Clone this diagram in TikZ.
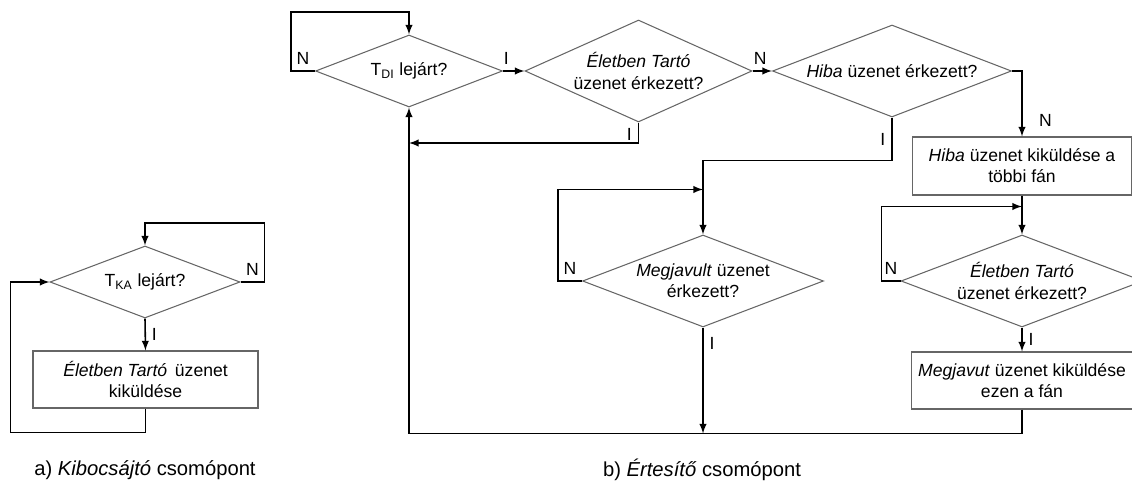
\documentclass[tikz,border=0pt]{standalone}
\usepackage{fontspec}
\setmainfont{Liberation Sans}
\usepackage{tikz}
\usetikzlibrary{calc}
\usetikzlibrary{arrows}
\usetikzlibrary{positioning}
\usetikzlibrary{shapes.geometric}

\begin{document}
\begin{tikzpicture}[
      x=0.02cm, y=-0.02cm,
      decision/.style={diamond, draw=black!60, line width=0.6pt, inner sep=0pt, align=center},
      block/.style ={rectangle, draw=black!60, line width=0.6pt, inner sep=0pt, align=center},
      flow/.style ={line width=0.9pt, -latex},
      caption/.style={font=\fontsize{11.5}{14}\selectfont}
    ]
    \useasboundingbox (0,0) rectangle (1132,486);

    % a) Kibocsajto csomopont
    \node [decision, aspect=2.64, minimum width=3.8cm, minimum height=1.44cm] (tka) at (145,282) {T\textsubscript{KA} lejárt?} ;
    \node [block, minimum width=4.5cm, minimum height=1.14cm] (kaki) at (145.5,379.5) {\textit{Életben Tartó}\, üzenet\\kiküldése} ;
    \node [caption] (capa) at (145,470) {a) \textit{Kibocsájtó} csomópont} ;

    \draw [flow] (tka.east) -- node[above] {N} ++(24,0) -- ++(0,-59) -| (tka.north) ;
    \draw [flow] (tka.south) -- node[right] {I} (kaki.north) ;
    \draw [flow] (kaki.south) -- ++(0,24) -- ++(-135,0) |- (tka.west) ;

    % b) Ertesito csomopont
    \node [decision, aspect=2.6, minimum width=3.74cm, minimum height=1.44cm] (tdi) at (409,71) {T\textsubscript{DI} lejárt?} ;
    \node [decision, aspect=2.23, minimum width=4.54cm, minimum height=2.04cm] (et) at (638.5,71) {\textit{Életben Tartó}\\üzenet érkezett?} ;
    \node [decision, aspect=2.6, minimum width=4.78cm, minimum height=1.84cm] (hiba) at (892,71) {\textit{Hiba} üzenet érkezett?} ;
    \node [block, minimum width=4.38cm, minimum height=1.16cm] (hbox) at (1022,166) {\textit{Hiba} üzenet kiküldése a\\többi fán} ;
    \node [decision, aspect=2.62, minimum width=4.82cm, minimum height=1.84cm] (megj) at (703,281) {\textit{Megjavult} üzenet\\érkezett?} ;
    \node [decision, aspect=2.63, minimum width=4.84cm, minimum height=1.84cm] (et2) at (1022,281) {\textit{Életben Tartó}\\üzenet érkezett?} ;
    \node [block, minimum width=4.42cm, minimum height=1.14cm] (mbox) at (1022,380.5) {\textit{Megjavut} üzenet kiküldése\\ezen a fán} ;
    \node [caption] (capb) at (702,470) {b) \textit{Értesítő} csomópont} ;

    \coordinate (back) at (409,143) ;
    \path (mbox.south) ++(0,24) coordinate (corner) ;

    \draw [flow] (tdi.west) -- node[above] {N} ++(-24,0) -- ++(0,-59) -| (tdi.north) ;
    \draw [flow] (tdi.east) -- node[above, pos=0.15] {I} (et.west) ;
    \draw [flow] (et.south) |- node[left, pos=0.3] {I} (back) ;
    \draw [flow] (et.east) -- node[above, pos=0.4] {N} (hiba.west) ;
    \draw [flow] (hiba.east) -| node[right=6pt, pos=0.88] {N} (hbox.north) ;
    \draw [flow] (hiba.south) -- node[left] {I} ++(0,43) -| (megj.north) ;
    \draw [flow] (megj.west) -- node[above] {N} ++(-24,0) |- ($(megj.north)+(0,-45)$) ;
    \draw [flow] (megj.south) -- node[right, pos=0.15] {I} (megj.south |- corner) ;
    \draw [flow] (hbox.south) -- (et2.north) ;
    \draw [flow] (et2.west) -- node[above] {N} ++(-19,0) |- ($(et2.north)+(0,-28)$) ;
    \draw [flow] (et2.south) -- node[right] {I} (mbox.north) ;
    \draw [flow] (mbox.south) -- (corner) -| (tdi.south) ;
  \end{tikzpicture}
\end{document}
